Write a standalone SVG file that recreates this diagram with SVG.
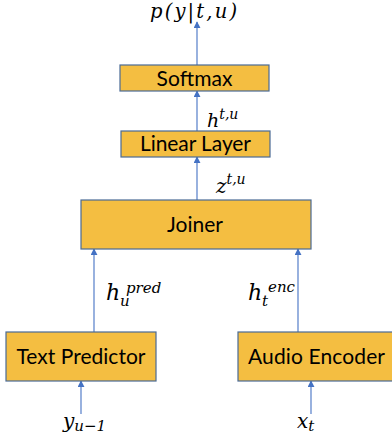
<svg xmlns="http://www.w3.org/2000/svg" width="392" height="445" viewBox="0 0 392 445">
<defs>
<style>
.box{fill:#F4BE41;stroke:#4A6A95;stroke-width:1.2}
.lbl{font-family:Lato,"Noto Sans","Liberation Sans",sans-serif;font-size:21px;fill:#000;text-anchor:middle}
.m{font-family:"DejaVu Serif","Liberation Serif",serif;font-style:italic;fill:#000}
.c{stroke:#4472C4;stroke-width:1.1;fill:none;marker-end:url(#ah)}
</style>
<marker id="ah" viewBox="0 0 8 8" refX="7" refY="4" markerWidth="7" markerHeight="7" orient="auto" markerUnits="userSpaceOnUse">
<path d="M0,0 L8,4 L0,8 z" fill="#4472C4"/>
</marker>
</defs>
<rect width="392" height="445" fill="#fff"/>
<g id="connectors">
<line class="c" x1="197" y1="65" x2="197" y2="22"/>
<line class="c" x1="197" y1="131" x2="197" y2="91"/>
<line class="c" x1="197" y1="200" x2="197" y2="157"/>
<line class="c" x1="94" y1="332" x2="94" y2="249"/>
<line class="c" x1="298" y1="332" x2="298" y2="249"/>
<line class="c" x1="81" y1="414" x2="81" y2="381"/>
<line class="c" x1="311" y1="414" x2="311" y2="381"/>
</g>
<g id="softmax">
<rect class="box" x="120" y="65" width="149" height="26"/>
<text class="lbl" x="194.5" y="86" textLength="76">Softmax</text>
</g>
<g id="linear">
<rect class="box" x="121" y="131" width="149" height="26"/>
<text class="lbl" x="195.5" y="151" textLength="111">Linear Layer</text>
</g>
<g id="joiner">
<rect class="box" x="81" y="200" width="230" height="49"/>
<text class="lbl" x="195" y="232" textLength="56">Joiner</text>
</g>
<g id="textpred">
<rect class="box" x="6" y="332" width="150" height="49"/>
<text class="lbl" x="81" y="363.5" textLength="129">Text Predictor</text>
</g>
<g id="audioenc">
<rect class="box" x="238" y="332" width="160" height="49"/>
<text class="lbl" x="316.5" y="363.5" textLength="137">Audio Encoder</text>
</g>
<g id="labels">
<text class="m" x="150" y="17.5" font-size="19.5" textLength="87">p(y|t,u)</text>
<text class="m" x="207" y="126.5" font-size="19">h<tspan font-size="14" dy="-8">t,u</tspan></text>
<text class="m" x="216" y="192.5" font-size="20">z<tspan font-size="14" dy="-9">t,u</tspan></text>
<text class="m" x="106" y="299.5" font-size="22">h</text>
<text class="m" x="120" y="306" font-size="15">u</text>
<text class="m" x="126" y="292.5" font-size="15">pred</text>
<text class="m" x="248" y="299.5" font-size="22">h</text>
<text class="m" x="262" y="306" font-size="15">t</text>
<text class="m" x="268" y="291.5" font-size="15">enc</text>
<text class="m" x="63" y="428" font-size="20">y<tspan font-size="15" dy="3">u−1</tspan></text>
<text class="m" x="297" y="428" font-size="20">x<tspan font-size="15" dy="3">t</tspan></text>
</g>
</svg>
